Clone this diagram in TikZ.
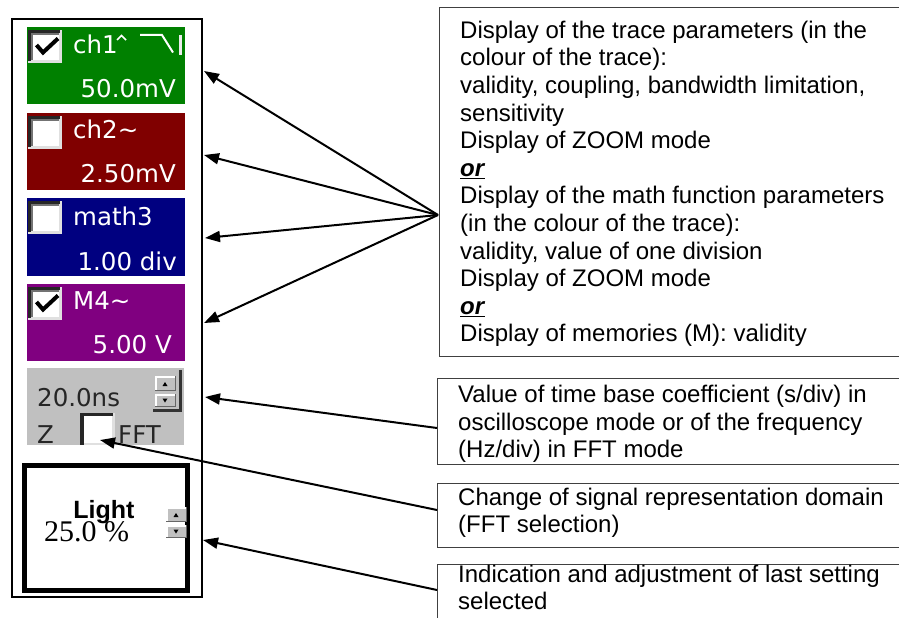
\documentclass[tikz,border=0pt]{standalone}
\usepackage{fontspec}
\setmainfont{Liberation Sans}
\newfontfamily\pixfont{DejaVu Sans}
\newfontfamily\seriffont{Liberation Serif}
\usetikzlibrary{arrows.meta}
\definecolor{chgreen}{HTML}{008000}
\definecolor{chred}{HTML}{800000}
\definecolor{chblue}{HTML}{000080}
\definecolor{chpurple}{HTML}{800080}
\definecolor{uigrey}{HTML}{C0C0C0}
\definecolor{uilight}{HTML}{E0E0E0}
\definecolor{boxline}{HTML}{404040}
\begin{document}
\begin{tikzpicture}[x=1pt,y=-1pt,
  arr/.style={line width=2pt,-{Triangle[length=15pt,width=11pt]}},
  desc/.style={draw=boxline,line width=1.3pt,anchor=north west,inner sep=0pt},
  ln/.style={anchor=base west,inner sep=0pt,font=\fontsize{24}{27.6}\selectfont},
  pix/.style={inner sep=0pt,text=white,font=\pixfont\fontsize{24.5}{26}\selectfont},
  pixdark/.style={inner sep=0pt,text=black!85,font=\pixfont\fontsize{24.5}{26}\selectfont},
  cbox/.pic={
    \fill[uilight] (0,0) rectangle (34,33);
    \fill[black!85] (0,0) rectangle (32,3);
    \fill[black!85] (0,0) rectangle (3,31);
    \fill[black!55] (3,3) rectangle (31,5);
    \fill[black!55] (3,3) rectangle (5,30);
    \fill[white] (5,5) rectangle (31,30);
  },
  cmark/.pic={
    \draw[line width=4pt,black,line join=miter] (8.5,15) -- (15,22.5) -- (30,8.5);
  },
  spinup/.pic={
    \fill[black!60] (0,0) rectangle (21,15);
    \fill[white] (0,0) rectangle (19.5,13.5);
    \fill[uigrey] (1.5,1.5) rectangle (19.5,13.5);
    \fill[black] (7.5,10) -- (12.5,10) -- (10,6) -- cycle;
  },
  spindown/.pic={
    \fill[black!60] (0,0) rectangle (21,13);
    \fill[white] (0,0) rectangle (19.5,11.5);
    \fill[uigrey] (1.5,1.5) rectangle (19.5,11.5);
    \fill[black] (7.5,4.5) -- (12.5,4.5) -- (10,8.5) -- cycle;
  }
]
\useasboundingbox (0,0) rectangle (899,618);

% ---------- left panel ----------
\draw[line width=2pt,black] (12,19) rectangle (202,597);

% green block
\begin{scope}[shift={(27,27)}]
  \fill[chgreen] (0,0) rectangle (158,77);
  \pic at (1,3) {cbox};
  \pic at (1,3) {cmark};
  \node[pix,anchor=base west] (ch1) at (46,27) {ch1};
  \node[pix,anchor=base east] (v1) at (149,70) {50.0mV};
\end{scope}
\draw[white,line width=1.6pt] (117,40) -- (121.5,35.5) -- (126,40);
\draw[white,line width=2pt] (140,35) -- (162,35) -- (173,52.5);
\draw[white!85!gray,line width=3pt] (180.5,35) -- (180.5,55);

% red block
\begin{scope}[shift={(27,113)}]
  \fill[chred] (0,0) rectangle (158,77);
  \pic at (1,3) {cbox};
  \node[pix,anchor=base west] (ch2) at (46,25) {ch2\textasciitilde};
  \node[pix,anchor=base east] (v2) at (149,69) {2.50mV};
\end{scope}

% blue block
\begin{scope}[shift={(27,198)}]
  \fill[chblue] (0,0) rectangle (158,78);
  \pic at (1,3) {cbox};
  \node[pix,anchor=base west] (m3) at (46,27) {math3};
  \node[pix,anchor=base east] (v3) at (150,72) {1.00 div};
\end{scope}

% purple block
\begin{scope}[shift={(27,284)}]
  \fill[chpurple] (0,0) rectangle (158,77);
  \pic at (1,3) {cbox};
  \pic at (1,3) {cmark};
  \node[pix,anchor=base west] (m4) at (46,25) {M4\textasciitilde};
  \node[pix,anchor=base east] (v4) at (145,69) {5.00 V};
\end{scope}

% grey time base block
\fill[uigrey] (27,368) rectangle (184,445);
\node[pixdark,anchor=base west] (tb) at (37,406) {20.0ns};
\pic at (155,376) {spinup};
\pic at (155,394) {spindown};
\fill[black!80] (179,370) rectangle (182,412);
\fill[black!80] (153,409) rectangle (182,412);
\node[pixdark,anchor=base west] (zl) at (37,443) {Z};
\node[pixdark,anchor=base west] (fft) at (118,443) {FFT};
\begin{scope}[shift={(80,413)}]
  \fill[uilight] (0,0) rectangle (35,32);
  \fill[black!85] (0,0) rectangle (33,3);
  \fill[black!85] (0,0) rectangle (4,32);
  \fill[white] (4,3) rectangle (32,30);
\end{scope}

% last setting box
\draw[line width=5pt,black] (24.5,465.5) rectangle (187.5,590.5);
\node[inner sep=0pt,anchor=base,font=\bfseries\fontsize{25}{27}\selectfont] (light) at (104,518) {Light};
\node[inner sep=0pt,anchor=base west,font=\seriffont\fontsize{30}{32}\selectfont] (pct) at (44,541.7) {25.0 \%};
\pic at (166,507) {spinup};
\pic at (166,525) {spindown};

% ---------- description boxes ----------
\node[desc,minimum width=464pt,minimum height=349pt] (box1) at (439,7) {};
\node[desc,minimum width=466pt,minimum height=86pt] (box2) at (437,378) {};
\node[desc,minimum width=466pt,minimum height=64pt] (box3) at (437,483) {};
\node[desc,minimum width=466pt,minimum height=80pt] (box4) at (437,564) {};

\foreach \t [count=\i] in {
  {Display of the trace parameters (in the},
  {colour of the trace):},
  {validity, coupling, bandwidth limitation,},
  {sensitivity},
  {Display of ZOOM mode},
  {\underline{\textbf{\textit{or}}}},
  {Display of the math function parameters},
  {(in the colour of the trace):},
  {validity, value of one division},
  {Display of ZOOM mode},
  {\underline{\textbf{\textit{or}}}},
  {Display of memories (M): validity}}
  \node[ln] (b1-\i) at (460,{38.3+27.6*(\i-1)}) {\t};

\node[ln] (b2-1) at (458,402.7) {Value of time base coefficient (s/div) in};
\node[ln] (b2-2) at (458,430.3) {oscilloscope mode or of the frequency};
\node[ln] (b2-3) at (458,457.9) {(Hz/div) in FFT mode};
\node[ln] (b3-1) at (458,505) {Change of signal representation domain};
\node[ln] (b3-2) at (458,532.6) {(FFT selection)};
\node[ln] (b4-1) at (458,582) {Indication and adjustment of last setting};
\node[ln] (b4-2) at (458,609) {selected};

% ---------- connectors ----------
\coordinate (fan) at (438,215);
\coordinate (tipA) at (204,71);
\coordinate (tipB) at (204,155);
\coordinate (tipC) at (205,238);
\coordinate (tipD) at (204,323);
\coordinate (s2) at (437,428);
\coordinate (tipE) at (205,397);
\coordinate (s3) at (437,510);
\coordinate (tipF) at (100,440);
\coordinate (s4) at (437,590);
\coordinate (tipG) at (203,540);

\draw[arr] (fan) -- (tipA);
\draw[arr] (fan) -- (tipB);
\draw[arr] (fan) -- (tipC);
\draw[arr] (fan) -- (tipD);
\draw[arr] (s2) -- (tipE);
\draw[arr] (s3) -- (tipF);
\draw[arr] (s4) -- (tipG);
\end{tikzpicture}
\end{document}
